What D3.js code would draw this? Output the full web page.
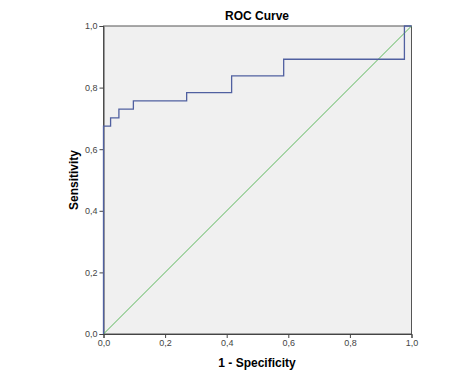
<!DOCTYPE html>
<html><head><meta charset="utf-8">
<script src="https://cdn.jsdelivr.net/npm/d3@7"></script>
<style>body{margin:0;background:#fff}svg{display:block}</style>
</head><body>
<script>
const fpr = [0, 0, 0.023, 0.023, 0.05, 0.05, 0.097, 0.097, 0.27, 0.27, 0.416, 0.416, 0.585, 0.585, 0.977, 0.977, 1];
const tpr = [0, 0.675, 0.675, 0.702, 0.702, 0.73, 0.73, 0.757, 0.757, 0.784, 0.784, 0.838, 0.838, 0.892, 0.892, 1, 1];
const refX = [0, 1];
const refY = [0, 1];
const ticks = [0, 0.2, 0.4, 0.6, 0.8, 1.0];
const tickLabels = ["0,0", "0,2", "0,4", "0,6", "0,8", "1,0"];

const W = 475, H = 380;
const svg = d3.select("body").append("svg").attr("width", W).attr("height", H);
const x = d3.scaleLinear().domain([0, 1]).range([103.5, 411.5]);
const y = d3.scaleLinear().domain([0, 1]).range([334, 26]);

svg.append("rect").attr("x", x(0)).attr("y", y(1)).attr("width", x(1) - x(0)).attr("height", y(0) - y(1))
  .attr("fill", "#f0f0f0").attr("stroke", "#555").attr("stroke-width", 1);

const fmt = d => tickLabels[ticks.indexOf(d)];
const xAxis = svg.append("g").attr("transform", `translate(0,${y(0)})`)
  .call(d3.axisBottom(x).tickValues(ticks).tickFormat(fmt).tickSize(4).tickPadding(2));
const yAxis = svg.append("g").attr("transform", `translate(${x(0)},0)`)
  .call(d3.axisLeft(y).tickValues(ticks).tickFormat(fmt).tickSize(4).tickPadding(2));
[xAxis, yAxis].forEach(g => {
  g.select(".domain").attr("stroke", "#444");
  g.selectAll(".tick line").attr("stroke", "#444");
  g.selectAll("text").attr("fill", "#444").style("font-family", "Arial, 'Liberation Sans', sans-serif").style("font-size", "9px");
});

const line = d3.line().x(d => x(d[0])).y(d => y(d[1]));
svg.append("path").datum(refX.map((v, i) => [v, refY[i]])).attr("d", line)
  .attr("fill", "none").attr("stroke", "#5cb85c").attr("stroke-width", 1);
svg.append("path").datum(fpr.map((v, i) => [v, tpr[i]])).attr("d", line)
  .attr("fill", "none").attr("stroke", "#5060a0").attr("stroke-width", 1.3);

const font = "Arial, 'Liberation Sans', sans-serif";
svg.append("text").attr("x", 257).attr("y", 20).attr("text-anchor", "middle")
  .style("font-family", font).style("font-weight", "bold").style("font-size", "12px").text("ROC Curve");
svg.append("text").attr("x", 257).attr("y", 367).attr("text-anchor", "middle")
  .style("font-family", font).style("font-weight", "bold").style("font-size", "12px").text("1 - Specificity");
svg.append("text").attr("transform", "translate(78,180) rotate(-90)").attr("text-anchor", "middle")
  .style("font-family", font).style("font-weight", "bold").style("font-size", "12px").text("Sensitivity");
</script>
</body></html>
